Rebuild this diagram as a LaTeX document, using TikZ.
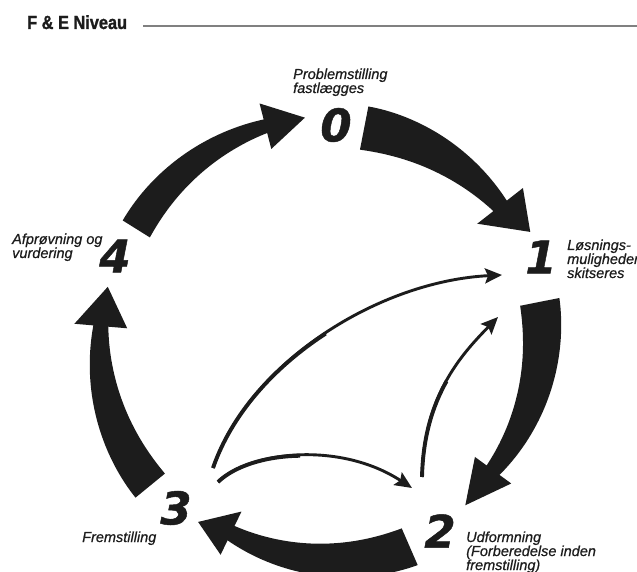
\documentclass[tikz,border=0pt]{standalone}
\usepackage{fontspec}
\setmainfont{Liberation Sans}[ItalicFeatures={FakeBold=0.6}]
\newfontfamily\numfont{DejaVu Sans}[BoldItalicFeatures={FakeBold=1}]
\newfontfamily\titlefont{Liberation Sans}[FakeStretch=0.86,BoldFeatures={FakeBold=1.2}]
\usetikzlibrary{arrows.meta}
\definecolor{ink}{RGB}{28,28,28}
% #1 tail angle, #2 neck angle, #3 tip angle, #4 tail radius, #5 neck radius,
% #6 tip radius, #7 tail width, #8 neck width, #9 head width
\newcommand\BigArr[9]{%
\begin{scope}[declare function={
  ss(\u)=(\u-(#1))/((#2)-(#1));
  rr(\u)=#4+(#5-#4)*ss(\u);
  ww(\u)=#8+(#7-#8)*(1-ss(\u)*sqrt(abs(ss(\u))));
}]
\fill[ink] plot[domain=#1:#2,samples=40,variable=\t]
   ({322+(rr(\t)+ww(\t)/2)*cos(\t)},{226+(rr(\t)+ww(\t)/2)*sin(\t)})
 -- ({322+(#5+#9/2)*cos(#2)},{226+(#5+#9/2)*sin(#2)})
 -- ({322+#6*cos(#3)},{226+#6*sin(#3)})
 -- ({322+(#5-#9/2)*cos(#2)},{226+(#5-#9/2)*sin(#2)})
 -- plot[domain=#2:#1,samples=40,variable=\t]
   ({322+(rr(\t)-ww(\t)/2)*cos(\t)},{226+(rr(\t)-ww(\t)/2)*sin(\t)})
 -- cycle;
\end{scope}}
\begin{document}
\begin{tikzpicture}[x=1pt,y=1pt,
  num/.style={font=\numfont\bfseries\itshape\fontsize{45}{45}\selectfont,text=ink,inner sep=0},
  lab/.style={font=\itshape\fontsize{14.5}{14}\selectfont,text=ink,align=left,inner sep=0,anchor=base west},
  thin/.style={draw=ink,line width=2.9pt,-{Stealth[length=17pt,width=15pt,inset=3pt]}},
  thick/.style={draw=ink,line width=3.9pt}]
\useasboundingbox (0,0) rectangle (637,571);
% title
\node[font=\titlefont\bfseries\fontsize{19}{19}\selectfont,text=ink,anchor=base west,inner sep=0] (title) at (27,542) {F \& E Niveau};
\coordinate (ruleS) at (143,545);
\coordinate (ruleE) at (637,545);
\draw[gray,line width=1.5pt] (ruleS) -- (ruleE);
% numbers
\node[num] (n0) at (336,446) {0};
\node[num] (n1) at (541,314) {1};
\node[num] (n2) at (440,40) {2};
\node[num] (n3) at (176,63) {3};
\node[num] (n4) at (115,315) {4};
% labels
\node[lab] (l0) at (293,478) {Problemstilling\\fastlægges};
\node[lab] (l1) at (567,293) {Løsnings-\\muligheder\\skitseres};
\node[lab] (l4) at (12,313) {Afprøvning og\\vurdering};
\node[lab] (l3) at (82,29) {Fremstilling};
\node[lab] (l2) at (466,1) {Udformning\\(Forberedelse inden\\fremstilling)};
% big cycle arrows
\BigArr{148}{104.5}{94.3}{219}{226}{228}{32}{14}{47}
\BigArr{79}{38}{28.5}{221}{226}{237}{44}{17}{58}
\BigArr{11.2}{-36.2}{-48.2}{222}{212}{215}{40}{16}{45}
\BigArr{-66.5}{-115.8}{-125}{220}{209}{216}{40}{16}{48}
\BigArr{219.3}{175.1}{164.8}{222}{222}{222}{38}{15}{53}
% thin arrows
\coordinate (a1s) at (213,103);
\coordinate (a1m) at (325.6,237.4);
\coordinate (a1e) at (502,296);
\coordinate (a2s) at (218,89);
\coordinate (a2m) at (300,115.25);
\coordinate (a2e) at (412,83);
\coordinate (a3s) at (422,94);
\coordinate (a3m) at (446.5,189.75);
\coordinate (a3e) at (498,254);
\draw[thin] (a1s) .. controls (250,210) and (380,290) .. (a1e);
\draw[thick] (a1s) .. controls (231.5,156.5) and (273.25,203.25) .. (a1m);
\draw[thin] (a2s) .. controls (250,120) and (340,130) .. (a2e);
\draw[thick] (a2s) .. controls (234,104.5) and (264.5,114.75) .. (a2m);
\draw[thin] (a3s) .. controls (424,175) and (460,215) .. (a3e);
\draw[thick] (a3s) .. controls (423,134.5) and (432.5,164.75) .. (a3m);
\end{tikzpicture}
\end{document}
